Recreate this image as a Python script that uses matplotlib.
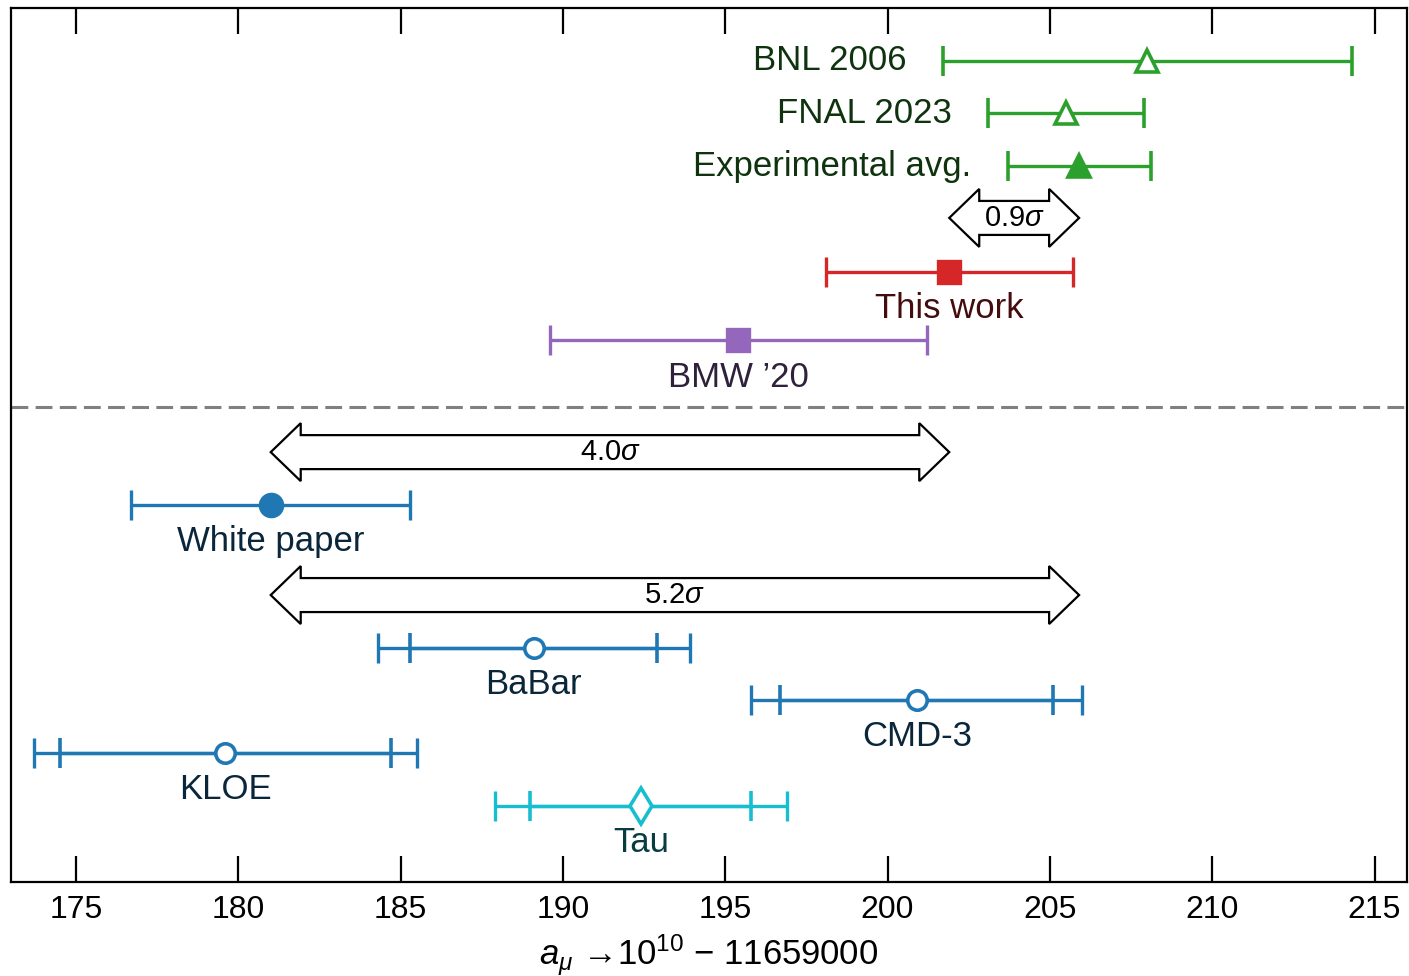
import matplotlib
matplotlib.use("Agg")
import matplotlib.pyplot as plt
from matplotlib.patches import Polygon
from matplotlib.colors import to_rgb
import numpy as np

MAIN = 'Liberation Sans'
plt.rcParams['font.family'] = [MAIN, 'DejaVu Sans']
plt.rcParams['mathtext.fontset'] = 'custom'
plt.rcParams['mathtext.it'] = MAIN + ':italic'
plt.rcParams['mathtext.rm'] = MAIN

# ---------------- data ----------------
exp_names = ["BNL 2006", "FNAL 2023", "Experimental avg."]
exp_vals = [208.0, 205.5, 205.9]
exp_errs = [6.3, 2.4, 2.2]

lat_names = ["This work", "BMW \u201920"]
lat_vals = [201.9, 195.4]
lat_errs = [3.8, 5.8]

wp_name = "White paper"
wp_val = 181.0
wp_err = 4.3

ee_names = ["BaBar", "CMD-3", "KLOE", "Tau"]
ee_vals = [189.1, 200.9, 179.6, 192.4]
ee_err_inner = [3.8, 4.2, 5.1, 3.4]
ee_err_outer = [4.8, 5.1, 5.9, 4.5]

tension_labels = ["0.9", "4.0", "5.2"]

xticks = [175, 180, 185, 190, 195, 200, 205, 210, 215]

# ---------------- layout ----------------
W, H, DPI = 1409, 976, 100
fig = plt.figure(figsize=(W / DPI, H / DPI), dpi=DPI)
ax_l, ax_r, ax_t, ax_b = 11, 1407, 8, 882
ax = fig.add_axes([ax_l / W, (H - ax_b) / H, (ax_r - ax_l) / W, (ax_b - ax_t) / H])
ax.set_xlim(173, 216)
ax.set_ylim(16.57, 0)

# row positions (layout)
y_exp = [1.0, 2.0, 3.0]
y_arrow09 = 3.98
y_lat = [5.0, 6.3]
y_dash = 7.56
y_arrow40 = 8.42
y_wp = 9.42
y_arrow52 = 11.13
y_ee = [12.13, 13.12, 14.12, 15.13]

green = '#2ca02c'
red = '#d62728'
purple = '#9467bd'
blue = '#1f77b4'
cyan = '#17becf'


def dark(c, f=0.32):
    r, g, b = to_rgb(c)
    return (r * f, g * f, b * f)


LW = 2.4
CAP = 11
FS = 25
TFS = 23
AFS = 21
MEW = 2.6
eb_kw = dict(elinewidth=LW, capsize=CAP, capthick=LW, zorder=3)

# experiments
exp_markers = [dict(marker='^', mfc='white', mec=green, ms=16, mew=MEW),
               dict(marker='^', mfc='white', mec=green, ms=16, mew=MEW),
               dict(marker='^', mfc=green, mec=green, ms=16, mew=MEW)]
for v, e, y, name, mk in zip(exp_vals, exp_errs, y_exp, exp_names, exp_markers):
    ax.errorbar(v, y, xerr=e, color=green, ls='none', **mk, **eb_kw)
    ax.annotate(name, (v - e, y), xytext=(-26, 0), textcoords='offset points',
                ha='right', va='center', fontsize=FS, color=dark(green))

# lattice
for v, e, y, name, c in zip(lat_vals, lat_errs, y_lat, lat_names, [red, purple]):
    ax.errorbar(v, y, xerr=e, color=c, ls='none', marker='s', ms=16, mfc=c, mec=c,
                mew=LW, **eb_kw)
    ax.annotate(name, (v, y), xytext=(0, -26.5), textcoords='offset points',
                ha='center', va='center', fontsize=FS, color=dark(c))

# white paper
ax.errorbar(wp_val, y_wp, xerr=wp_err, color=blue, ls='none', marker='o', ms=16,
            mfc=blue, mec=blue, mew=LW, **eb_kw)
ax.annotate(wp_name, (wp_val, y_wp), xytext=(0, -26.5), textcoords='offset points',
            ha='center', va='center', fontsize=FS, color=dark(blue))

# e+e- / tau based
for v, ei, eo, y, name in zip(ee_vals, ee_err_inner, ee_err_outer, y_ee, ee_names):
    c = cyan if name == "Tau" else blue
    mk = 'd' if name == "Tau" else 'o'
    ms = 18 if name == "Tau" else 14
    ax.errorbar(v, y, xerr=eo, color=c, ls='none', marker='none', **eb_kw)
    ax.errorbar(v, y, xerr=ei, color=c, ls='none', marker=mk, ms=ms, mfc='white',
                mec=c, mew=MEW, **eb_kw)
    ax.annotate(name, (v, y), xytext=(0, -26.5), textcoords='offset points',
                ha='center', va='center', fontsize=FS, color=dark(c))

# dashed separator
ax.axhline(y_dash, color='#808080', lw=2.2, ls=(0, (5.5, 2.4)), zorder=1)


# double arrows
def darrow(x0, x1, y, label):
    inv = ax.transData.inverted()
    p0 = ax.transData.transform((x0, y))
    p1 = ax.transData.transform((x1, y))
    X0, X1, Y = p0[0], p1[0], p0[1]
    hl, hh, bh = 30, 29, 17
    pts = [(X0, Y), (X0 + hl, Y + hh), (X0 + hl, Y + bh), (X1 - hl, Y + bh),
           (X1 - hl, Y + hh), (X1, Y), (X1 - hl, Y - hh), (X1 - hl, Y - bh),
           (X0 + hl, Y - bh), (X0 + hl, Y - hh)]
    dpts = inv.transform(np.array(pts))
    ax.add_patch(Polygon(dpts, closed=True, facecolor='white', edgecolor='black',
                         lw=1.6, zorder=4))
    ax.text((x0 + x1) / 2, y, label + r"$\sigma$", ha='center', va='center',
            fontsize=AFS, color='black', zorder=5)


darrow(lat_vals[0], exp_vals[2], y_arrow09, tension_labels[0])
darrow(wp_val, lat_vals[0], y_arrow40, tension_labels[1])
darrow(wp_val, exp_vals[2], y_arrow52, tension_labels[2])

# axes styling
ax.set_xticks(xticks)
ax.set_xticklabels([str(t) for t in xticks])
ax.tick_params(axis='x', direction='in', top=True, bottom=True, length=19, width=1.6,
               labelsize=TFS, pad=9)
ax.tick_params(axis='y', left=False, right=False, labelleft=False)
for s in ax.spines.values():
    s.set_linewidth(1.6)

ax.set_xlabel("$a_\\mu$ \u219210$^{10}$ \u2212 11659000", fontsize=25, labelpad=6)

fig.savefig("out.png", dpi=DPI)
